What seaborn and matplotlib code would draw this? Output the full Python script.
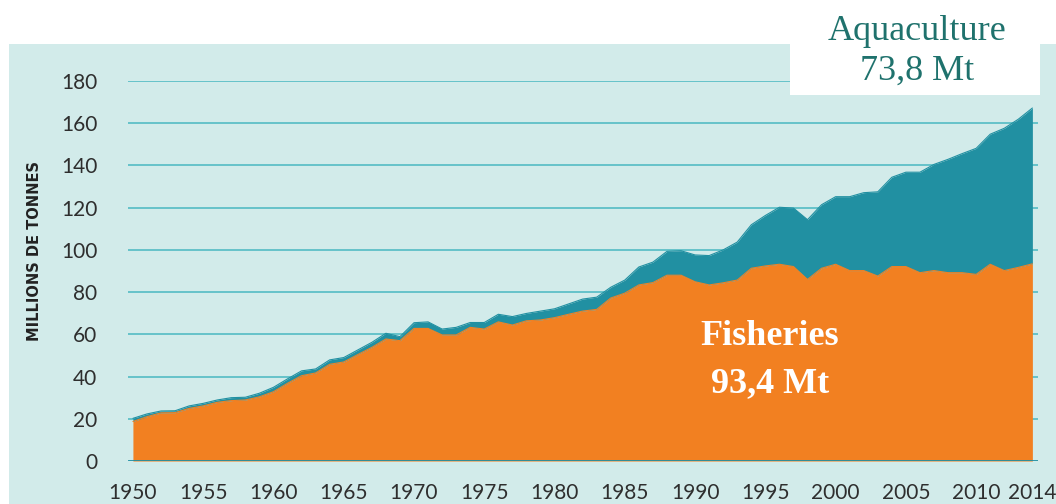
import numpy as np
import pandas as pd
import matplotlib
matplotlib.use("Agg")
import matplotlib.pyplot as plt
from matplotlib.patches import Rectangle
import seaborn as sns

years = list(range(1950, 2015))
total = [20.2, 22.3, 23.7, 23.8, 26.1, 27.3, 28.9, 30.0, 30.2, 32.1,
         34.9, 38.9, 42.7, 43.6, 47.9, 49.0, 52.6, 56.2, 60.5, 58.9,
         65.5, 65.9, 62.5, 63.3, 65.6, 65.6, 69.5, 68.4, 69.9, 71.0,
         72.1, 74.4, 76.7, 77.6, 82.3, 85.7, 91.9, 94.2, 99.3, 99.6,
         97.6, 97.3, 100.0, 103.7, 111.9, 116.3, 120.2, 119.8, 114.3, 121.4,
         125.2, 125.2, 127.1, 127.5, 134.4, 136.8, 136.8, 140.5, 142.9, 145.6,
         148.1, 154.8, 157.6, 161.9, 167.2]
fisheries = [18.7, 21.0, 22.8, 22.9, 24.9, 26.1, 27.8, 28.6, 28.9, 30.4,
             32.8, 36.8, 40.4, 41.7, 45.8, 46.9, 50.4, 53.8, 57.8, 57.0,
             62.8, 62.8, 59.7, 59.7, 63.3, 62.5, 65.9, 64.4, 66.4, 66.8,
             67.9, 69.5, 71.0, 71.8, 77.2, 79.5, 83.4, 84.5, 88.0, 88.0,
             84.9, 83.4, 84.4, 85.7, 91.3, 92.4, 93.2, 92.1, 86.0, 91.3,
             93.2, 90.2, 90.2, 87.6, 92.1, 92.1, 89.2, 90.2, 89.2, 89.2,
             88.4, 93.2, 90.2, 91.7, 93.4]
x_ticks = [1950, 1955, 1960, 1965, 1970, 1975, 1980, 1985, 1990, 1995, 2000, 2005, 2010, 2014]
y_ticks = [0, 20, 40, 60, 80, 100, 120, 140, 160, 180]

df = pd.DataFrame({"year": years, "total": total, "fisheries": fisheries})

sns.set_theme(style="white")
plt.rcParams["font.family"] = ["Lato", "DejaVu Sans"]

ORANGE = "#F28021"
TEAL = "#2190A2"
BG = "#D2EBEA"
GRID = "#5DBFC7"

fig = plt.figure(figsize=(10.56, 5.04), dpi=100)
fig.patch.set_facecolor("white")
# panel background
fig.add_artist(Rectangle((9 / 1056, 0), 1 - 9 / 1056, 1 - 44 / 504,
                         transform=fig.transFigure, facecolor=BG,
                         edgecolor="none", zorder=-10))

ax = fig.add_axes([128 / 1056, 43 / 504, (1038 - 128) / 1056, (461 - 81) / 504])
ax.set_facecolor("none")

ax.fill_between(df["year"], 0, df["fisheries"], color=ORANGE, linewidth=0, zorder=3)
ax.fill_between(df["year"], df["fisheries"], df["total"], color=TEAL, linewidth=0, zorder=3)
sns.lineplot(data=df, x="year", y="total", ax=ax, color=TEAL, linewidth=0.8, zorder=4)
sns.lineplot(data=df, x="year", y="fisheries", ax=ax, color=ORANGE, linewidth=0.8, zorder=4)

ax.set_xlim(1949.65, 2014.4)
ax.set_ylim(0, 180)
for v in y_ticks[1:]:
    ax.axhline(v, color=GRID, linewidth=1.3, zorder=1)
ax.axhline(0, color="#1E8EA3", linewidth=2.0, zorder=5)

for s in ax.spines.values():
    s.set_visible(False)
ax.grid(False)
ax.set_xticks(x_ticks)
ax.set_yticks(y_ticks)
ax.set_xticklabels([str(t) for t in x_ticks])
ax.set_yticklabels([str(t) for t in y_ticks])
ax.tick_params(axis="both", length=0, labelsize=15, labelcolor="#2E2E2E")
ax.tick_params(axis="y", pad=22)
ax.tick_params(axis="x", pad=16)
ax.set_xlabel("")
ax.set_ylabel("")

fig.text(35 / 1056, 1 - 251 / 504, "MILLIONS DE TONNES", rotation=90,
         ha="center", va="center", fontsize=10.5, fontweight="bold",
         color="#222222", family=["Liberation Sans Narrow", "DejaVu Sans"])

# white label box
fig.add_artist(Rectangle((790 / 1056, 1 - 95 / 504), (1040 - 790) / 1056, 95 / 504,
                         transform=fig.transFigure, facecolor="white",
                         edgecolor="none", zorder=10))
fig.text(917 / 1056, 1 - 40 / 504, "Aquaculture", ha="center", va="baseline",
         fontsize=26, color="#1F726D", family=["Liberation Serif", "DejaVu Serif"], zorder=11)
fig.text(917 / 1056, 1 - 80 / 504, "73,8 Mt", ha="center", va="baseline",
         fontsize=26, color="#1F726D", family=["Liberation Serif", "DejaVu Serif"], zorder=11)

fig.text(770 / 1056, 1 - 345 / 504, "Fisheries", ha="center", va="baseline",
         fontsize=26, fontweight="bold", color="white",
         family=["Liberation Serif", "DejaVu Serif"], zorder=11)
fig.text(770 / 1056, 1 - 392 / 504, "93,4 Mt", ha="center", va="baseline",
         fontsize=26, fontweight="bold", color="white",
         family=["Liberation Serif", "DejaVu Serif"], zorder=11)

fig.savefig("out.png", dpi=100)
